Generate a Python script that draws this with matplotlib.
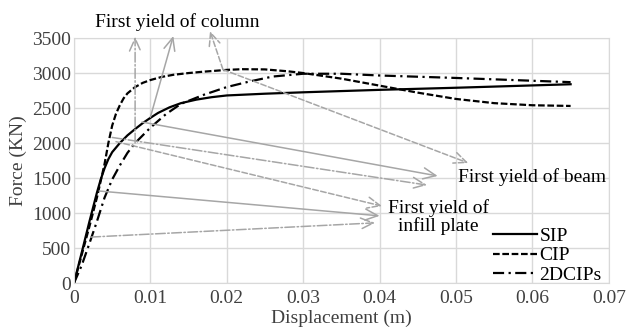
import matplotlib
matplotlib.use("Agg")
import matplotlib.pyplot as plt

plt.rcParams["font.family"] = ["Liberation Serif", "DejaVu Serif"]

# Curve data (displacement in m, force in kN)
sip_x = [0, 0.001, 0.002, 0.003, 0.0035, 0.004, 0.0045, 0.005, 0.006, 0.007, 0.008, 0.009, 0.01, 0.011,
         0.0125, 0.014, 0.016, 0.018, 0.02, 0.025, 0.03, 0.04, 0.05, 0.065]
sip_y = [0, 430, 870, 1290, 1480, 1640, 1770, 1870, 2000, 2110, 2200, 2285, 2360, 2430,
         2510, 2570, 2620, 2655, 2680, 2705, 2725, 2760, 2790, 2840]

cip_x = [0, 0.001, 0.002, 0.003, 0.004, 0.0045, 0.005, 0.0055, 0.006, 0.0065, 0.007, 0.008, 0.009,
         0.01, 0.0115, 0.013, 0.015, 0.017, 0.02, 0.022, 0.025, 0.028, 0.03, 0.035, 0.04, 0.045,
         0.05, 0.055, 0.06, 0.065]
cip_y = [0, 400, 800, 1220, 1700, 2000, 2250, 2420, 2540, 2640, 2710, 2800, 2860,
         2900, 2945, 2975, 3000, 3020, 3045, 3055, 3052, 3025, 3000, 2920, 2820, 2720,
         2630, 2570, 2540, 2530]

dcip_x = [0, 0.001, 0.002, 0.003, 0.004, 0.005, 0.006, 0.007, 0.008, 0.009, 0.01, 0.012, 0.014,
          0.017, 0.02, 0.023, 0.026, 0.03, 0.035, 0.04, 0.05, 0.065]
dcip_y = [0, 250, 560, 880, 1220, 1480, 1680, 1860, 2000, 2110, 2220, 2410, 2560,
          2690, 2800, 2880, 2950, 2990, 2990, 2965, 2930, 2870]

# Annotation arrows: (start, tip, linestyle)
column_arrows = [((0.0080, 2000), (0.0080, 3520), "-."),
                 ((0.0100, 2370), (0.0130, 3530), "-"),
                 ((0.0195, 3050), (0.0178, 3600), "--")]
beam_arrows = [((0.0089, 2300), (0.0476, 1530), "-"),
               ((0.0050, 2080), (0.0462, 1400), "-."),
               ((0.0195, 3050), (0.0516, 1715), "--")]
infill_arrows = [((0.0055, 2020), (0.0403, 1100), "--"),
                 ((0.0033, 1315), (0.0400, 960), "-"),
                 ((0.0022, 657), (0.0394, 860), "-.")]

fig = plt.figure(figsize=(6.27, 3.28), dpi=100)
ax = fig.add_axes([0.118, 0.137, 0.853, 0.747])

ax.plot(sip_x, sip_y, color="black", lw=1.6, ls="-", label="SIP")
ax.plot(cip_x, cip_y, color="black", lw=1.6, ls=(0, (3, 1.2)), label="CIP")
ax.plot(dcip_x, dcip_y, color="black", lw=1.6, ls=(0, (5, 2, 1, 2)), label="2DCIPs")

gray = "#a6a6a6"
for start, tip, style in column_arrows + beam_arrows + infill_arrows:
    ax.annotate("", xy=tip, xytext=start, annotation_clip=False,
                arrowprops=dict(arrowstyle="->,head_length=0.9,head_width=0.4",
                                color=gray, lw=1.1, linestyle=style,
                                shrinkA=0, shrinkB=0))

fs = 14
ax.text(0.0135, 3730, "First yield of column", fontsize=fs, ha="center", va="center")
ax.text(0.0503, 1510, "First yield of beam", fontsize=fs, ha="left", va="center")
ax.text(0.0477, 945, "First yield of\ninfill plate", fontsize=fs, ha="center",
        va="center", multialignment="center", linespacing=1.0)

ax.set_xlim(0, 0.07)
ax.set_ylim(0, 3500)
ax.set_xticks([0, 0.01, 0.02, 0.03, 0.04, 0.05, 0.06, 0.07])
ax.set_xticklabels(["0", "0.01", "0.02", "0.03", "0.04", "0.05", "0.06", "0.07"])
ax.set_yticks(range(0, 3501, 500))
ax.grid(True, color="#d9d9d9", lw=1.0)
ax.set_axisbelow(True)
for s in ax.spines.values():
    s.set_color("#d9d9d9")
ax.tick_params(axis="x", length=0, labelsize=fs, colors="#404040", pad=5)
ax.tick_params(axis="y", length=0, labelsize=fs, colors="#404040", pad=2)

ax.set_xlabel("Displacement (m)", fontsize=fs, color="#404040", labelpad=2)
ax.set_ylabel("Force (KN)", fontsize=fs, color="#404040", labelpad=4)

ax.legend(loc="lower right", frameon=False, fontsize=fs, handlelength=2.3,
          handletextpad=0.1, labelspacing=0.08, borderaxespad=0.0,
          borderpad=0.1, bbox_to_anchor=(0.99, -0.01))

fig.savefig("out.png", dpi=100)
